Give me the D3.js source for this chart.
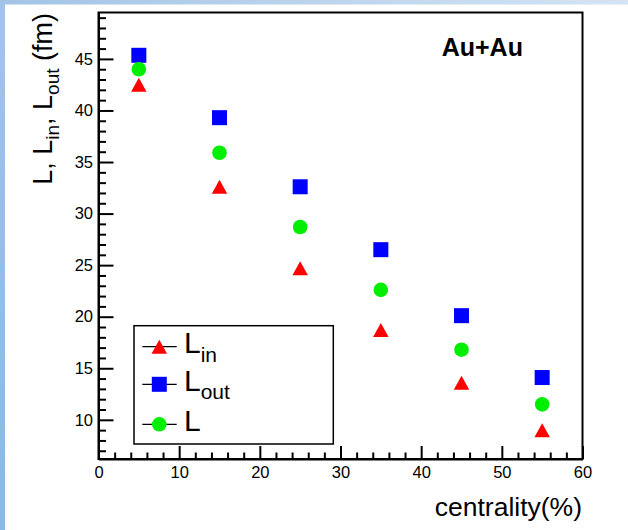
<!DOCTYPE html>
<html><head><meta charset="utf-8">
<script src="https://cdn.jsdelivr.net/npm/d3@7"></script>
<style>html,body{margin:0;padding:0;background:#fff;}svg{display:block;}</style>
</head><body>
<svg id="c" width="628" height="530"></svg>
<script>
const centrality = [5, 15, 25, 35, 45, 55];
const Lin  = [42.5, 32.6, 24.7, 18.7, 13.6, 9.0];
const Lout = [45.35, 39.3, 32.6, 26.5, 20.1, 14.1];
const Lall = [44.0, 35.9, 28.7, 22.6, 16.8, 11.5];
const xTicks = [0, 10, 20, 30, 40, 50, 60];
const yTicks = [10, 15, 20, 25, 30, 35, 40, 45];

const svg = d3.select("#c");
const font = "'Liberation Sans', Arial, Helvetica, sans-serif";

// background decoration
const defs = svg.append("defs");
const gTop = defs.append("linearGradient").attr("id","gtop").attr("x1","0").attr("x2","1").attr("y1","0").attr("y2","0");
gTop.append("stop").attr("offset","0").attr("stop-color","#a3c4e6");
gTop.append("stop").attr("offset","1").attr("stop-color","#d3e4f4");
const gLeft = defs.append("linearGradient").attr("id","gleft").attr("x1","0").attr("x2","0").attr("y1","0").attr("y2","1");
gLeft.append("stop").attr("offset","0").attr("stop-color","#a3c4e6");
gLeft.append("stop").attr("offset","1").attr("stop-color","#8cb8e2");
svg.append("rect").attr("x",0).attr("y",0).attr("width",628).attr("height",4.5).attr("fill","url(#gtop)");
svg.append("rect").attr("x",0).attr("y",0).attr("width",5).attr("height",530).attr("fill","url(#gleft)");

const L = 98.5, R = 582.5, T = 12.5, B = 459;
const x = d3.scaleLinear().domain([0, 60]).range([L, R]);
const y = d3.scaleLinear().domain([6.2, 49.5]).range([B, T]);

// frame
svg.append("rect").attr("x",L).attr("y",T).attr("width",R-L).attr("height",B-T)
  .attr("fill","none").attr("stroke","#000").attr("stroke-width",2);

// minor ticks
const xMinor = d3.range(0, 61, 2).filter(v => v % 10 !== 0);
const yMinor = d3.range(7, 50, 1).filter(v => v % 5 !== 0);
svg.append("g").attr("transform",`translate(0,${B})`)
  .call(d3.axisBottom(x).tickValues(xMinor).tickSize(-6.5).tickSizeOuter(0).tickFormat(""))
  .call(g => g.select(".domain").remove())
  .selectAll("line").attr("stroke-width",2);
svg.append("g").attr("transform",`translate(${L},0)`)
  .call(d3.axisLeft(y).tickValues(yMinor).tickSize(-7.5).tickSizeOuter(0).tickFormat(""))
  .call(g => g.select(".domain").remove())
  .selectAll("line").attr("stroke-width",2);

// major axes
const xa = svg.append("g").attr("transform",`translate(0,${B})`)
  .call(d3.axisBottom(x).tickValues(xTicks).tickSize(-13).tickSizeOuter(0).tickPadding(7.5).tickFormat(d3.format("d")));
xa.select(".domain").attr("stroke-width",2);
xa.selectAll("line").attr("stroke-width",2);
xa.selectAll("text").attr("font-family",font).attr("font-size",16.5).attr("fill","#000");

const ya = svg.append("g").attr("transform",`translate(${L},0)`)
  .call(d3.axisLeft(y).tickValues(yTicks).tickSize(-15).tickSizeOuter(0).tickPadding(5.5).tickFormat(d3.format("d")));
ya.select(".domain").attr("stroke-width",2);
ya.selectAll("line").attr("stroke-width",2);
ya.selectAll("text").attr("font-family",font).attr("font-size",16.5).attr("fill","#000");

// markers
const sq = 15, cr = 7.3, tw = 15.5, th = 14;
function tri(cx, cy){ return `M${cx-tw/2},${cy+th/2}L${cx+tw/2},${cy+th/2}L${cx},${cy-th/2}Z`; }

svg.append("g").selectAll("path").data(centrality.map((c,i)=>[c,Lin[i]])).join("path")
  .attr("d", d => tri(x(d[0]), y(d[1]))).attr("fill","#ff0000");
svg.append("g").selectAll("rect").data(centrality.map((c,i)=>[c,Lout[i]])).join("rect")
  .attr("x", d => x(d[0])-sq/2).attr("y", d => y(d[1])-sq/2).attr("width",sq).attr("height",sq).attr("fill","#0000ff");
svg.append("g").selectAll("circle").data(centrality.map((c,i)=>[c,Lall[i]])).join("circle")
  .attr("cx", d => x(d[0])).attr("cy", d => y(d[1])).attr("r",cr).attr("fill","#00ee00");

// legend
const lg = svg.append("g");
lg.append("rect").attr("x",134).attr("y",325.7).attr("width",199.3).attr("height",118.3)
  .attr("fill","#fff").attr("stroke","#000").attr("stroke-width",1.5);
const legendItems = [
  {main:"L", sub:"in", type:"tri", color:"#ff0000", yc:346.7, base:353.3},
  {main:"L", sub:"out", type:"sq", color:"#0000ff", yc:384.3, base:391},
  {main:"L", sub:"", type:"circ", color:"#00ee00", yc:424.3, base:431}
];
legendItems.forEach(it => {
  lg.append("line").attr("x1",142.3).attr("x2",176.7).attr("y1",it.yc).attr("y2",it.yc).attr("stroke","#000").attr("stroke-width",1.3);
  const mx = 159.3;
  if (it.type==="tri") lg.append("path").attr("d", tri(mx, it.yc)).attr("fill", it.color);
  else if (it.type==="sq") lg.append("rect").attr("x",mx-sq/2).attr("y",it.yc-sq/2).attr("width",sq).attr("height",sq).attr("fill",it.color);
  else lg.append("circle").attr("cx",mx).attr("cy",it.yc).attr("r",cr).attr("fill",it.color);
  const t = lg.append("text").attr("x",184).attr("y",it.base).attr("font-family",font).attr("font-size",30).attr("fill","#000");
  t.append("tspan").text(it.main);
  if (it.sub) t.append("tspan").attr("dy",8.4).attr("font-size",21).text(it.sub);
});

// Au+Au label
svg.append("text").attr("x",441.7).attr("y",56).attr("font-family",font).attr("font-weight","bold")
  .attr("font-size",25).attr("fill","#000").text("Au+Au");

// x title
svg.append("text").attr("x",582).attr("y",516).attr("text-anchor","end").attr("font-family",font)
  .attr("font-size",26.5).attr("fill","#000").text("centrality(%)");

// y title
const yt = svg.append("text").attr("transform","translate(52,13) rotate(-90)").attr("text-anchor","end")
  .attr("font-family",font).attr("font-size",27).attr("fill","#000");
yt.append("tspan").text("L, L");
yt.append("tspan").attr("dy",6.5).attr("font-size",19).text("in");
yt.append("tspan").attr("dy",-6.5).text(", L");
yt.append("tspan").attr("dy",6.5).attr("font-size",19).text("out");
yt.append("tspan").attr("dy",-6.5).text(" (fm)");
</script>
</body></html>
